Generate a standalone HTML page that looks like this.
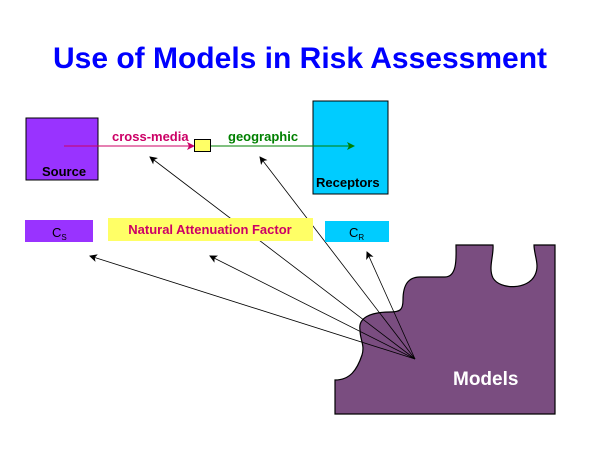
<!DOCTYPE html>
<html><head><style>
body{margin:0;background:#fff;width:600px;height:450px;overflow:hidden}
svg{display:block}
text{font-family:"Liberation Sans",sans-serif;font-weight:bold}
</style></head><body>
<svg width="600" height="450" viewBox="0 0 600 450">
<defs>
<marker id="ak" markerWidth="8" markerHeight="8" refX="7" refY="4" orient="auto" markerUnits="userSpaceOnUse"><path d="M0,0 L8,4 L0,8 L2,4 Z" fill="#000"/></marker>
<marker id="ar" markerWidth="8" markerHeight="8" refX="7" refY="4" orient="auto" markerUnits="userSpaceOnUse"><path d="M0,0 L8,4 L0,8 L2,4 Z" fill="#cc0066"/></marker>
<marker id="ag" markerWidth="8" markerHeight="8" refX="7" refY="4" orient="auto" markerUnits="userSpaceOnUse"><path d="M0,0 L8,4 L0,8 L2,4 Z" fill="#008000"/></marker>
</defs>
<text x="300" y="68" text-anchor="middle" font-size="30" fill="#0000ff">Use of Models in Risk Assessment</text>

<rect x="26" y="118" width="72" height="62" fill="#9933ff" stroke="#000" stroke-width="1"/>
<text x="42" y="176" font-size="13" fill="#000">Source</text>
<rect x="313" y="101" width="75" height="93" fill="#00ccff" stroke="#000" stroke-width="1"/>
<text x="316" y="187" font-size="13" fill="#000">Receptors</text>

<line x1="64" y1="146" x2="194" y2="146" stroke="#cc0066" stroke-width="1" marker-end="url(#ar)"/>
<line x1="210" y1="146" x2="354" y2="146" stroke="#008000" stroke-width="1" marker-end="url(#ag)"/>
<rect x="194.5" y="139.5" width="16" height="12" fill="#ffff66" stroke="#000" stroke-width="1"/>
<text x="112" y="141" font-size="13" fill="#cc0066">cross-media</text>
<text x="228" y="141" font-size="13" fill="#008000">geographic</text>

<path d="M335,414 L555,414 L555,245 L534,245 C534,255 540,265 535,275 C528,290 500,290 493,278 C488,268 494,255 493,245 L456,245 C456,255 458,277 445,277 L420,277 C405,277 403,290 403,300 C403,310 400,312 390,312 C370,312 358,318 360,330 C360,340 365,345 362,355 C357,370 350,380 335,380 Z" fill="#7a4d80" stroke="#000" stroke-width="1.2"/>
<text x="453" y="385" font-size="19" fill="#fff">Models</text>

<g stroke="#000" stroke-width="0.8" fill="none">
<line x1="415" y1="359" x2="150" y2="157" marker-end="url(#ak)"/>
<line x1="415" y1="359" x2="260" y2="157" marker-end="url(#ak)"/>
<line x1="415" y1="359" x2="90" y2="256" marker-end="url(#ak)"/>
<line x1="415" y1="359" x2="210" y2="256" marker-end="url(#ak)"/>
<line x1="415" y1="359" x2="367" y2="252" marker-end="url(#ak)"/>
</g>

<rect x="25" y="220" width="68" height="22" fill="#9933ff"/>
<text x="52" y="237" font-size="13" fill="#000" style="font-weight:normal">C<tspan font-size="8" dy="3">S</tspan></text>
<rect x="108" y="218" width="205" height="23" fill="#ffff66"/>
<text x="210" y="234" text-anchor="middle" font-size="13" fill="#cc0066">Natural Attenuation Factor</text>
<rect x="325" y="221" width="64" height="21" fill="#00ccff"/>
<text x="349" y="237" font-size="13" fill="#000" style="font-weight:normal">C<tspan font-size="8" dy="3">R</tspan></text>
</svg>
</body></html>
